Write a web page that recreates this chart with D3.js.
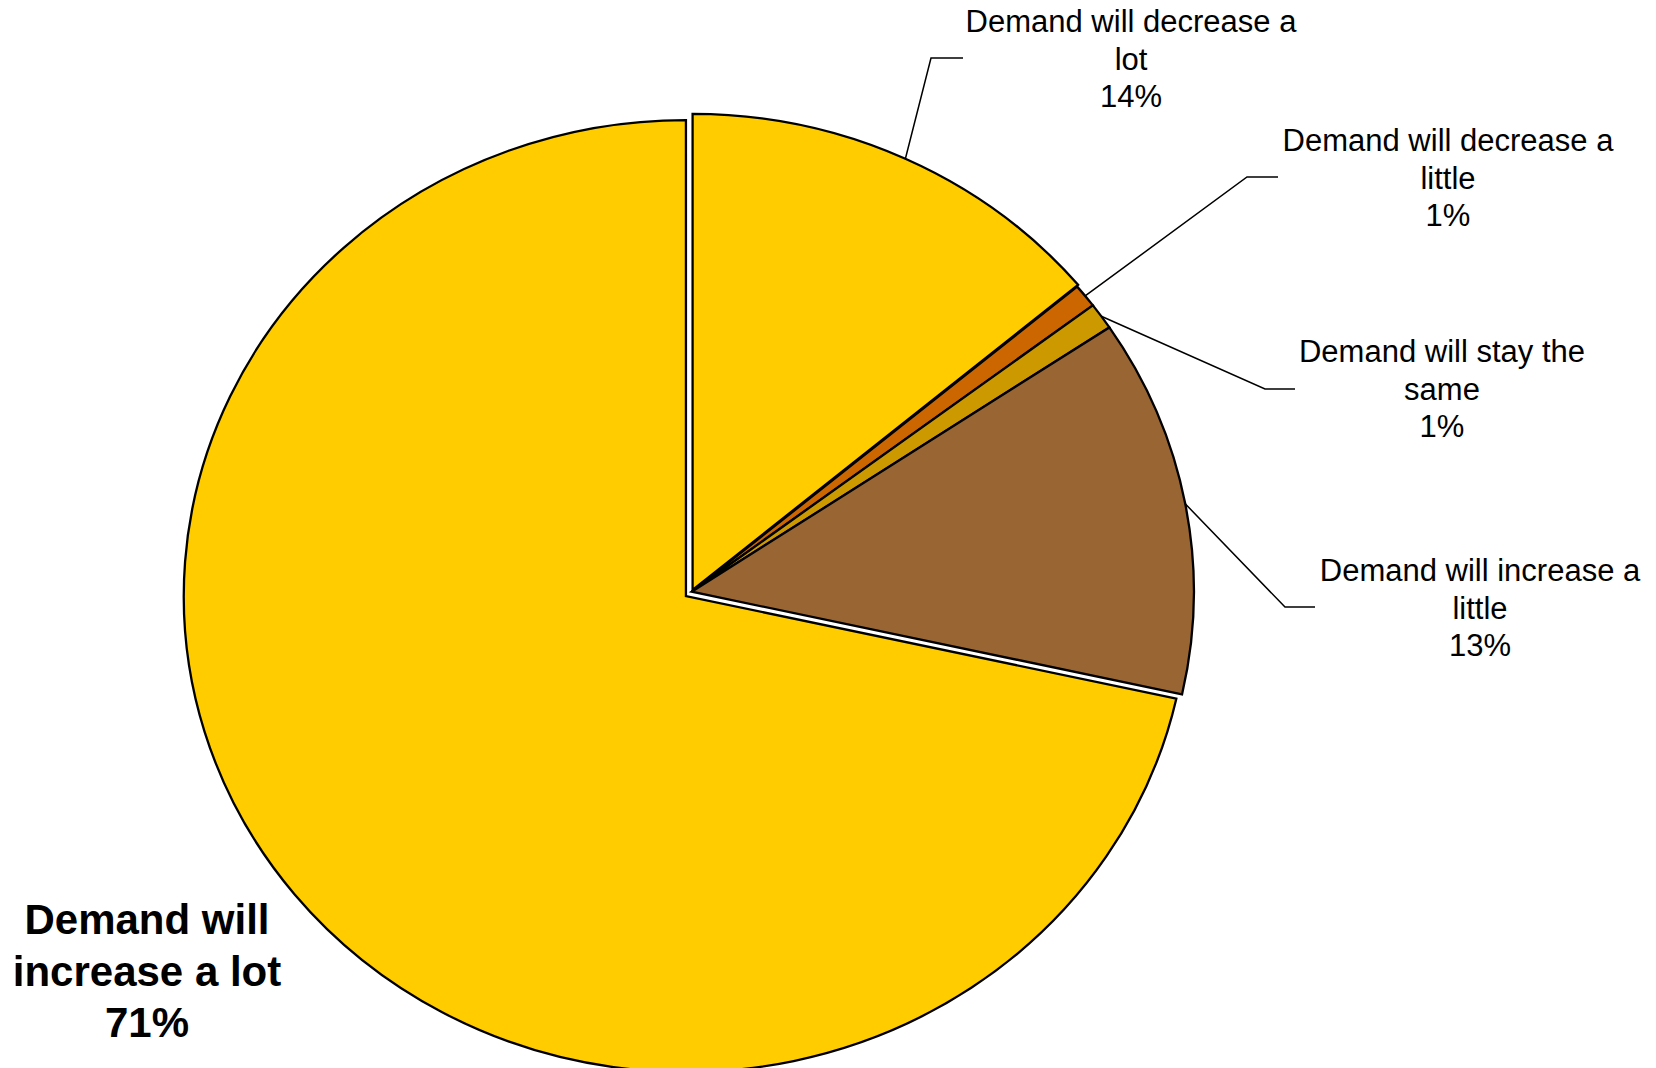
<!DOCTYPE html>
<html>
<head>
<meta charset="utf-8">
<script src="https://cdn.jsdelivr.net/npm/d3@7"></script>
<style>
  html, body { margin: 0; padding: 0; background: #ffffff; }
  svg { display: block; }
  text { font-family: "Liberation Sans", Arial, sans-serif; fill: #000; }
</style>
</head>
<body>
<svg id="chart" width="1656" height="1068"></svg>
<script>
// ---- data ----
const categories = [
  "Demand will decrease a lot",
  "Demand will decrease a little",
  "Demand will stay the same",
  "Demand will increase a little",
  "Demand will increase a lot"
];
const values = [13.9, 0.8, 0.9, 12.8, 71.4];
const colors = ["#FFCC00", "#CC6600", "#CC9900", "#996633", "#FFCC00"];

// ---- layout ----
const W = 1656, H = 1068;
const cx = 691.7, cy = 591.7;
const R = 476;            // vertical radius
const sx = 1.055;         // horizontal stretch of the picture
const explode = [2, 0, 0, 0, 7];
const labelLayout = [
  { x: 1131, y: 32,  elbow: [931, 58],   end: [963, 58],   bold: false },
  { x: 1448, y: 151, elbow: [1247, 177], end: [1278, 177], bold: false },
  { x: 1442, y: 362, elbow: [1265, 389], end: [1295, 389], bold: false },
  { x: 1480, y: 581, elbow: [1285, 607], end: [1315, 607], bold: false },
  { x: 147,  y: 934, elbow: null, end: null, bold: true }
];

const svg = d3.select("#chart");

const pie = d3.pie().sort(null).value(d => d)(values);
const arc = d3.arc().innerRadius(0).outerRadius(R);

const g = svg.append("g").attr("transform", `translate(${cx},${cy}) scale(${sx},1)`);

function offset(d, i) {
  const a = (d.startAngle + d.endAngle) / 2;
  return [Math.sin(a) * explode[i], -Math.cos(a) * explode[i]];
}

g.selectAll("path.slice")
  .data(pie)
  .join("path")
  .attr("class", "slice")
  .attr("d", arc)
  .attr("transform", (d, i) => { const o = offset(d, i); return `translate(${o[0]},${o[1]})`; })
  .attr("fill", (d, i) => colors[i])
  .attr("stroke", "#000")
  .attr("stroke-width", 2.3)
  .attr("stroke-linejoin", "miter")
  .attr("vector-effect", "non-scaling-stroke");

// leader lines
const leaders = svg.append("g");
pie.forEach((d, i) => {
  const L = labelLayout[i];
  if (!L.elbow) return;
  const a = (d.startAngle + d.endAngle) / 2;
  const o = offset(d, i);
  const px = cx + (Math.sin(a) * R + o[0]) * sx;
  const py = cy + (-Math.cos(a) * R + o[1]);
  leaders.append("path")
    .attr("d", d3.line()([[px, py], L.elbow, L.end]))
    .attr("fill", "none")
    .attr("stroke", "#000")
    .attr("stroke-width", 1.5);
});

// labels with word wrap
function wrapWords(text, maxW, fontSize, bold) {
  const tmp = svg.append("text")
    .attr("font-size", fontSize)
    .attr("font-weight", bold ? "bold" : "normal");
  const words = text.split(" ");
  const lines = [];
  let cur = [];
  words.forEach(w => {
    const test = cur.concat([w]).join(" ");
    tmp.text(test);
    if (tmp.node().getComputedTextLength() > maxW && cur.length) {
      lines.push(cur.join(" "));
      cur = [w];
    } else {
      cur.push(w);
    }
  });
  if (cur.length) lines.push(cur.join(" "));
  tmp.remove();
  return lines;
}

const labels = svg.append("g");
pie.forEach((d, i) => {
  const L = labelLayout[i];
  const fs = L.bold ? 42 : 31;
  const pitch = L.bold ? 51.5 : 37.5;
  const lines = wrapWords(categories[i], L.bold ? 300 : 350, fs, L.bold);
  lines.push(Math.round(values[i]) + "%");
  const t = labels.append("text")
    .attr("text-anchor", "middle")
    .attr("font-size", fs)
    .attr("font-weight", L.bold ? "bold" : "normal");
  lines.forEach((ln, k) => {
    t.append("tspan").attr("x", L.x).attr("y", L.y + k * pitch).text(ln);
  });
});
</script>
</body>
</html>
